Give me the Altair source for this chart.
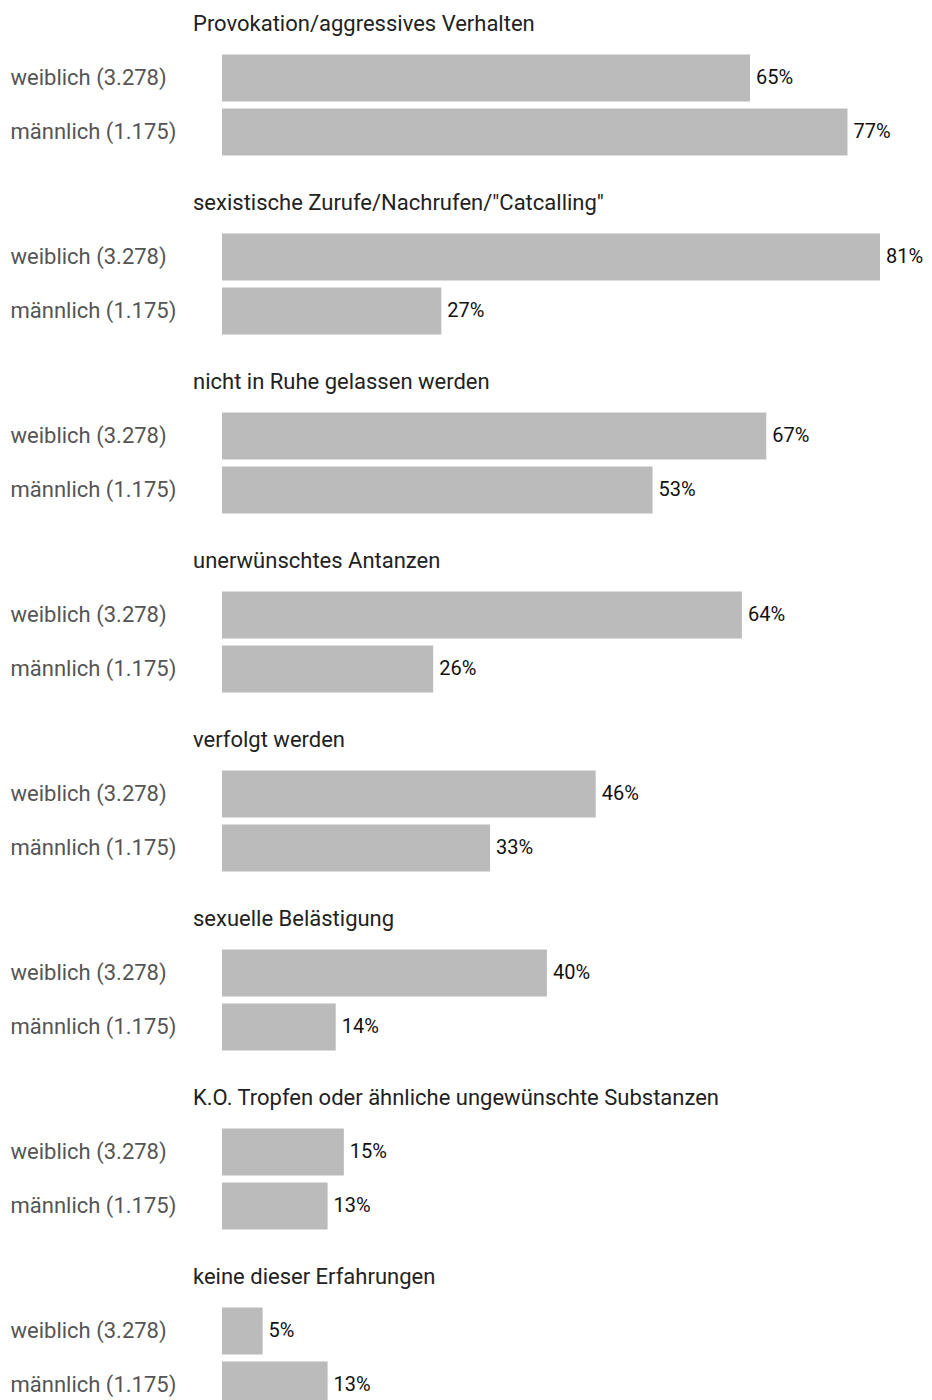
import altair as alt
import pandas as pd

categories = [
    "Provokation/aggressives Verhalten",
    'sexistische Zurufe/Nachrufen/"Catcalling"',
    "nicht in Ruhe gelassen werden",
    "unerwünschtes Antanzen",
    "verfolgt werden",
    "sexuelle Belästigung",
    "K.O. Tropfen oder ähnliche ungewünschte Substanzen",
    "keine dieser Erfahrungen",
]
groups = ["weiblich (3.278)", "männlich (1.175)"]
weiblich = [65, 81, 67, 64, 46, 40, 15, 5]
maennlich = [77, 27, 53, 26, 33, 14, 13, 13]

FONT = "Roboto, sans-serif"

panels = []
for i, cat in enumerate(categories):
    df = pd.DataFrame({
        "gruppe": groups,
        "wert": [weiblich[i], maennlich[i]],
    })
    df["label"] = df["wert"].astype(str) + "%"
    base = alt.Chart(df).encode(
        y=alt.Y("gruppe:N", sort=groups,
                scale=alt.Scale(paddingInner=0.13, paddingOuter=0.065),
                axis=alt.Axis(title=None, ticks=False, domain=False,
                              labelAlign="left", labelPadding=212,
                              labelFontSize=22, labelColor="#555555",
                              labelFont=FONT, labelLimit=300)),
        x=alt.X("wert:Q", scale=alt.Scale(domain=[0, 81], nice=False, zero=True),
                axis=None),
    )
    bars = base.mark_bar(color="#bbbbbb")
    text = base.mark_text(align="left", baseline="middle", dx=6, fontSize=20,
                          font=FONT, color="#111111").encode(text="label:N")
    panel = (bars + text).properties(
        width=658,
        height=alt.Step(54),
        title=alt.TitleParams(cat, anchor="start", frame="group", dx=-29,
                              fontSize=22, fontWeight="normal", color="#222222",
                              font=FONT, offset=15),
    )
    panels.append(panel)

chart = alt.vconcat(*panels, spacing=33).properties(
    padding={"left": 2, "top": 5, "right": 0, "bottom": 0}
).configure_view(stroke=None)

chart.save("out.html", embed_options={"renderer": "svg", "actions": False})
